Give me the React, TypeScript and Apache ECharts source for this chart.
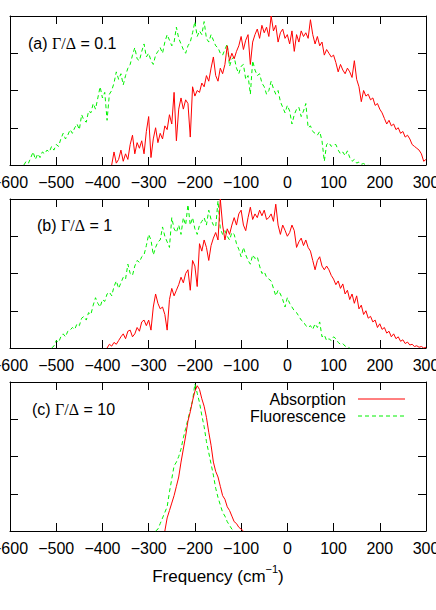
import React, { useEffect, useRef } from "react";
import * as echarts from "echarts";

// Frequency axis ticks
const xTicks = [-600, -500, -400, -300, -200, -100, 0, 100, 200, 300];
const panelLabels = ["(a) ", "(b) ", "(c) "];
const panelRatios = ["0.1", "1", "10"];
const legendNames = ["Absorption", "Fluorescence"];

// Each series is sampled every 5 cm^-1 starting at the given frequency
const step = 5;

// Panel (a) Γ/Δ = 0.1
const aAbsStart = -380;
const aAbs = [
  0.0, 0.35, 0.05, 0.15, 0.4, 0.1, 0.3, 0.15, 0.55, 0.8, 0.3, 0.6, 0.45, 0.65, 0.3, 0.9, 1.3, 0.2, 0.7, 1.0,
  0.6, 0.85, 0.7, 1.05, 0.95, 1.35, 1.1, 1.95, 0.65, 1.5, 1.8, 1.5, 1.75, 1.65, 0.75, 2.1, 1.85, 2.0, 1.95, 2.2,
  2.1, 2.4, 2.25, 2.6, 2.9, 2.4, 2.25, 2.6, 2.45, 2.7, 3.2, 2.8, 3.0, 2.85, 3.05, 3.2, 3.45, 3.1, 3.35, 3.5,
  2.7, 3.3, 3.5, 3.65, 3.4, 3.75, 3.55, 3.7, 3.45, 4.0, 3.6, 3.75, 3.3, 3.55, 3.65, 3.4, 3.5, 3.25, 3.6, 3.05,
  3.5, 3.3, 3.6, 3.45, 3.55, 3.4, 3.9, 3.5, 3.25, 3.45, 3.2, 3.3, 2.95, 3.1, 3.0, 2.9, 2.95, 2.75, 2.5, 2.7,
  2.55, 2.45, 2.6, 2.5, 2.35, 2.8, 2.3, 2.1, 1.7, 2.0, 1.85, 1.9, 1.75, 1.8, 1.6, 1.65, 1.5, 1.4, 1.25, 1.1,
  1.2, 1.05, 1.1, 0.95, 1.0, 0.85, 0.9, 0.75, 0.8, 0.7, 0.55, 0.5, 0.45, 0.4, 0.3, 0.1, 0.15,
];
const aFluStart = -570;
const aFlu = [
  0.0, 0.1, 0.05, 0.2, 0.35, 0.15, 0.3, 0.2, 0.35, 0.3, 0.4, 0.35, 0.5, 0.4, 0.55, 0.5, 0.7, 0.85, 0.7, 0.8,
  0.95, 0.85, 1.0, 1.1, 0.95, 1.35, 1.2, 1.15, 1.45, 1.4, 1.65, 1.5, 1.8, 2.1, 1.8, 1.95, 1.2, 1.9, 2.0, 2.2,
  2.5, 2.3, 2.45, 2.15, 2.4, 2.6, 2.7, 2.95, 3.15, 2.85, 2.8, 3.05, 3.25, 2.9, 3.0, 2.8, 2.7, 2.95, 3.05, 3.15,
  3.0, 3.3, 3.5, 3.35, 3.2, 3.3, 3.7, 3.4, 3.25, 3.1, 3.0, 3.2, 3.3, 3.55, 3.85, 3.45, 3.6, 3.5, 3.85, 3.4,
  3.3, 3.5, 3.35, 3.2, 3.15, 3.0, 2.95, 3.1, 3.25, 2.65, 2.85, 2.9, 2.6, 2.45, 2.65, 2.7, 2.3, 2.4, 1.9, 2.8,
  2.55, 2.4, 2.45, 2.2, 2.1, 1.9, 2.0, 2.25, 2.05, 1.9, 2.0, 1.7, 1.55, 1.4, 1.6, 1.45, 1.1, 1.35, 1.5, 1.55,
  1.3, 1.45, 1.65, 1.0, 1.05, 0.9, 0.85, 0.8, 0.9, 0.65, 0.1, 0.55, 0.6, 0.5, 0.55, 0.55, 0.4, 0.3, 0.35, 0.25,
  0.38, 0.2, 0.1, 0.15, 0.05, 0.08, 0.02, 0.04, 0.0, 0.0,
];

// Panel (b) Γ/Δ = 1
const bAbsStart = -390;
const bAbs = [
  0.0, 0.1, 0.05, 0.15, 0.1, 0.2, 0.3, 0.38, 0.25, 0.45, 0.48, 0.3, 0.38, 0.55, 0.45, 0.7, 0.75, 0.6, 0.75, 0.48,
  1.1, 1.45, 1.2, 1.05, 1.1, 0.9, 0.48, 1.3, 1.6, 1.4, 1.55, 1.7, 1.9, 1.75, 2.0, 2.1, 1.55, 2.35, 2.2, 1.65,
  2.8, 2.6, 2.9, 2.7, 2.35, 2.75, 2.95, 3.1, 2.9, 4.0, 3.3, 2.9, 3.2, 3.05, 3.3, 3.5, 3.3, 3.6, 3.7, 3.3,
  3.15, 3.5, 3.78, 3.45, 3.6, 3.5, 3.7, 3.55, 3.7, 3.45, 3.5, 3.6, 3.4, 3.86, 3.3, 3.05, 3.3, 3.16, 3.0, 3.1,
  3.3, 3.15, 2.7, 2.85, 2.95, 2.75, 2.9, 2.7, 2.6, 2.35, 2.1, 2.35, 2.45, 2.2, 2.1, 2.2, 2.1, 1.95, 1.85, 1.7,
  1.8, 1.6, 1.72, 1.45, 1.55, 1.3, 1.45, 1.2, 1.4, 1.05, 1.15, 0.9, 1.0, 0.8, 0.85, 0.7, 0.75, 0.55, 0.65, 0.5,
  0.55, 0.4, 0.45, 0.3, 0.38, 0.25, 0.3, 0.18, 0.22, 0.12, 0.16, 0.08, 0.1, 0.04, 0.06, 0.02, 0.04, 0.0, 0.02,
];
const bFluStart = -510;
const bFlu = [
  0.0, 0.05, 0.2, 0.15, 0.3, 0.38, 0.3, 0.45, 0.48, 0.55, 0.5, 0.65, 0.6, 0.8, 0.85, 0.75, 0.95, 0.9, 1.15, 1.35,
  1.2, 1.1, 1.3, 1.25, 1.45, 1.5, 1.4, 1.65, 1.8, 1.6, 1.75, 1.9, 1.85, 2.25, 2.0, 1.95, 2.2, 2.35, 2.3, 2.45,
  2.5, 2.75, 3.05, 2.9, 2.5, 2.7, 2.85, 2.9, 3.25, 3.0, 2.85, 2.7, 3.5, 3.2, 3.1, 3.3, 3.05, 3.5, 3.3, 3.85,
  3.3, 3.5, 3.2, 3.05, 3.3, 3.4, 3.5, 3.3, 3.7, 3.45, 3.3, 3.25, 3.95, 3.2, 3.05, 3.15, 3.0, 2.9, 3.1, 3.05,
  2.8, 2.65, 2.45, 2.7, 2.5, 2.35, 2.25, 2.5, 2.4, 2.45, 2.2, 2.0, 2.05, 1.9, 1.85, 1.8, 1.6, 1.4, 1.55, 1.45,
  1.3, 1.1, 1.35, 1.2, 1.1, 1.0, 0.95, 0.85, 0.75, 0.7, 0.6, 0.55, 0.6, 0.5, 0.65, 0.55, 0.7, 0.3, 0.35, 0.2,
  0.25, 0.2, 0.3, 0.25, 0.15, 0.1, 0.12, 0.05, 0.03, 0.0,
];

// Panel (c) Γ/Δ = 10
const cAbsStart = -265;
const cAbs = [
  0.0, 0.35, 0.55, 0.75, 0.95, 1.2, 1.45, 1.85, 2.2, 2.55, 2.95, 3.2, 3.5, 3.75, 3.9, 3.8, 3.55, 3.35, 3.05, 2.65,
  2.3, 1.85, 1.6, 1.45, 1.2, 0.95, 0.85, 0.65, 0.55, 0.4, 0.25, 0.2, 0.1, 0.05, 0.0,
];
const cFluStart = -285;
const cFlu = [
  0.0, 0.05, 0.2, 0.35, 0.5, 0.65, 1.05, 1.4, 1.75, 1.85, 2.0, 2.2, 2.5, 2.75, 3.0, 3.25, 3.5, 3.95, 3.7, 3.45,
  3.1, 2.8, 2.4, 2.1, 1.8, 1.5, 1.15, 0.9, 0.7, 0.5, 0.4, 0.25, 0.15, 0.05, 0.0,
];

const panels = [
  { absStart: aAbsStart, abs: aAbs, fluStart: aFluStart, flu: aFlu },
  { absStart: bAbsStart, abs: bAbs, fluStart: bFluStart, flu: bFlu },
  { absStart: cAbsStart, abs: cAbs, fluStart: cFluStart, flu: cFlu },
];

const FONT = "Liberation Sans";
const RED = "#ff0000";
const GREEN = "#00f000";
const DASH = [4, 3];

function toPairs(start: number, vals: number[]) {
  return vals.map((v, i) => [start + i * step, v]);
}

export default function App() {
  const ref = useRef<HTMLDivElement>(null);
  useEffect(() => {
    document.body.style.margin = "0";
    if (!ref.current) return;
    const chart = echarts.init(ref.current, null, { renderer: "svg" });
    const tops = [16, 199, 382];
    const grid = tops.map((t) => ({
      left: 10, top: t, width: 416, height: 149, containLabel: false, outerBoundsMode: "none",
    }));
    const xAxis: any[] = [];
    const yAxis: any[] = [];
    const series: any[] = [];
    const line = { show: true, onZero: false, lineStyle: { color: "#000", width: 1 } };
    const tick = { show: true, inside: true, length: 8, lineStyle: { color: "#000", width: 1 } };
    tops.forEach((_, i) => {
      xAxis.push({
        type: "value", gridIndex: i, position: "bottom", min: -600, max: 300, interval: 100,
        axisLine: line, axisTick: tick, splitLine: { show: false },
        axisLabel: {
          show: true, margin: 9, fontSize: 16, fontFamily: FONT, color: "#000",
          showMinLabel: true, showMaxLabel: true, hideOverlap: false,
          formatter: (v: number) => (xTicks.includes(v) ? String(v).replace("-", "\u2212") : ""),
        },
      });
      xAxis.push({
        type: "value", gridIndex: i, position: "top", min: -600, max: 300, interval: 100,
        axisLine: line, axisTick: tick, splitLine: { show: false }, axisLabel: { show: false },
      });
      yAxis.push({
        type: "value", gridIndex: i, position: "left", min: 0, max: 4, interval: 1,
        axisLine: line, axisTick: tick, splitLine: { show: false }, axisLabel: { show: false },
      });
      yAxis.push({
        type: "value", gridIndex: i, position: "right", min: 0, max: 4, interval: 1,
        axisLine: line, axisTick: tick, splitLine: { show: false }, axisLabel: { show: false },
      });
      const p = panels[i];
      series.push({
        name: legendNames[0], type: "line", xAxisIndex: 2 * i, yAxisIndex: 2 * i,
        data: toPairs(p.absStart, p.abs), symbol: "none", showSymbol: false,
        lineStyle: { color: RED, width: 1 }, itemStyle: { color: RED }, z: 3,
      });
      series.push({
        name: legendNames[1], type: "line", xAxisIndex: 2 * i, yAxisIndex: 2 * i,
        data: toPairs(p.fluStart, p.flu), symbol: "none", showSymbol: false,
        lineStyle: { color: GREEN, width: 1, type: DASH }, itemStyle: { color: GREEN }, z: 2,
      });
    });

    const labelPos = [
      { x: 28, y: 44 },
      { x: 37, y: 226 },
      { x: 32, y: 410 },
    ];
    const graphic: any[] = labelPos.map((pos, i) => ({
      type: "text", left: pos.x, top: pos.y - 9,
      style: {
        text: `{a|${panelLabels[i]}}{g|\u0393/\u0394}{a| = ${panelRatios[i]}}`,
        rich: {
          a: { fontSize: 16, fontFamily: FONT, fill: "#000" },
          g: { fontSize: 16, fontFamily: "Liberation Serif", fill: "#000" },
        },
      },
    }));
    // Legend (text right-aligned, sample line to its right)
    const legendRows = [
      { y: 399, color: RED, dash: null as any },
      { y: 416, color: GREEN, dash: DASH },
    ];
    legendRows.forEach((r, k) => {
      graphic.push({
        type: "text", x: 346, y: r.y,
        style: {
          text: legendNames[k], fontSize: 16, fontFamily: FONT, fill: "#000",
          align: "right", verticalAlign: "middle",
        },
      });
      graphic.push({
        type: "line",
        shape: { x1: 358, y1: r.y, x2: 405, y2: r.y },
        style: { stroke: r.color, lineWidth: 1, lineDash: r.dash },
      });
    });
    graphic.push({
      type: "text", left: "center", top: 563,
      style: {
        text: "{a|Frequency (cm}{s|\u22121}{a|)}",
        rich: {
          a: { fontSize: 17, fontFamily: FONT, fill: "#000", lineHeight: 22, verticalAlign: "bottom" },
          s: { fontSize: 11, fontFamily: FONT, fill: "#000", lineHeight: 22, verticalAlign: "top", padding: [0, 0, 11, 0] },
        },
      },
    });

    chart.setOption({
      animation: false,
      backgroundColor: "#fff",
      grid,
      xAxis,
      yAxis,
      series,
      graphic,
    });
    return () => chart.dispose();
  }, []);
  return <div ref={ref} style={{ width: 436, height: 610 }} />;
}
